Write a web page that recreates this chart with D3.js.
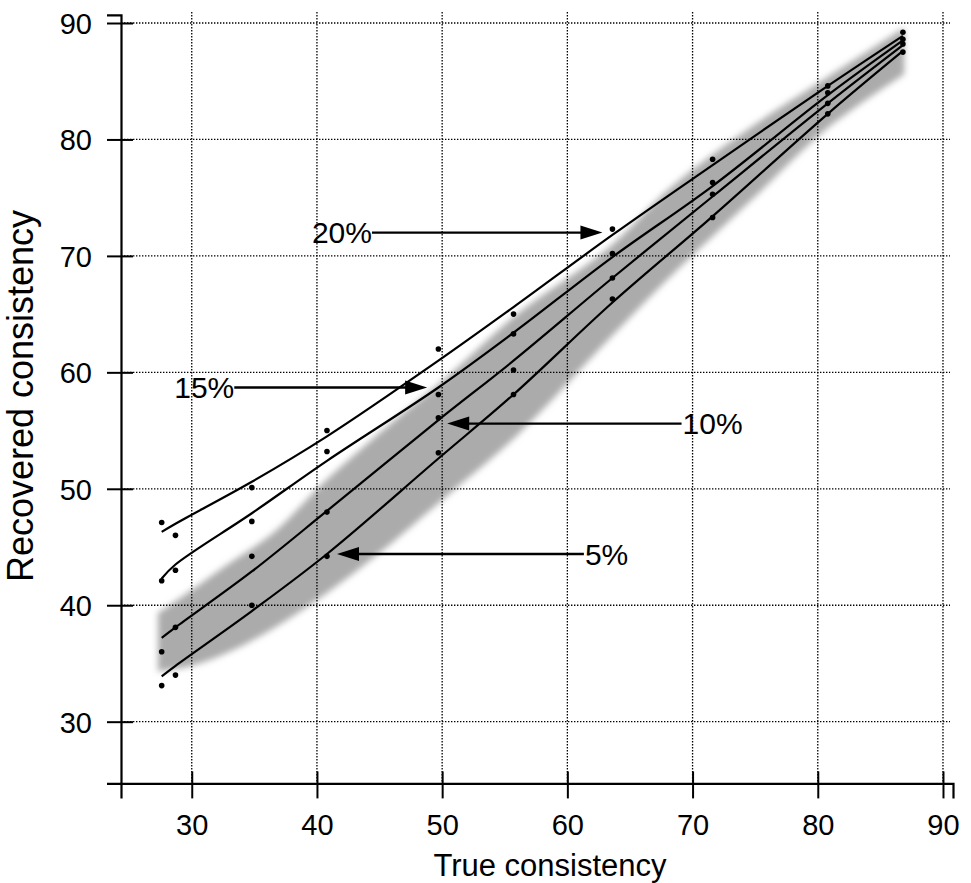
<!DOCTYPE html>
<html>
<head>
<meta charset="utf-8">
<script src="https://cdn.jsdelivr.net/npm/d3@7"></script>
<style>
  html, body { margin: 0; padding: 0; background: #fff; }
  svg { display: block; }
  text { font-family: "Liberation Sans", Arial, Helvetica, sans-serif; fill: #000; }
</style>
</head>
<body>
<svg id="chart" width="971" height="883"></svg>
<script>
// ---- data ----
const xs = [27.6, 28.7, 34.8, 40.8, 49.7, 55.7, 63.6, 71.6, 80.8, 86.8];

// observed points for each error level
const pts20 = [47.1, 46.0, 50.1, 55.0, 62.0, 65.0, 72.3, 78.3, 84.6, 89.2];
const pts15 = [42.1, 43.0, 47.2, 53.2, 58.1, 63.3, 70.2, 76.3, 84.0, 88.6];
const pts10 = [36.0, 38.1, 44.2, 48.0, 56.1, 60.2, 68.1, 75.3, 83.1, 88.2];
const pts5  = [33.1, 34.0, 40.0, 44.2, 53.1, 58.1, 66.3, 73.3, 82.2, 87.5];

// fitted curves for each error level
const line20 = [46.3, 47.0, 50.6, 54.5, 61.0, 65.6, 71.8, 77.8, 84.6, 88.9];
const line15 = [42.3, 43.5, 47.9, 52.4, 58.7, 63.4, 69.9, 76.0, 83.8, 88.5];
const line10 = [37.2, 38.1, 42.9, 48.1, 55.9, 61.0, 68.1, 75.1, 83.1, 88.1];
const line5  = [33.9, 34.8, 39.5, 44.4, 52.6, 58.1, 66.0, 73.4, 82.2, 87.6];

// shaded band
const bandX  = [27.3, 30, 33, 36.5, 40.6, 45, 50.6, 56, 63.1, 68.4, 75, 80.7, 86.9];
const bandHi = [39.3, 41.3, 43.6, 46.2, 50.6, 54.8, 59.8, 65.0, 70.5, 76.0, 81.3, 85.3, 89.6];
const bandLo = [34.3, 34.8, 36.0, 38.0, 40.9, 44.5, 49.6, 54.6, 62.6, 68.4, 75.1, 80.9, 85.6];

// annotations
const annLabels = ["20%", "15%", "10%", "5%"];
const annTextX  = [39.6, 28.6, 69.2, 61.4];
const annY      = [72.0, 58.7, 55.6, 44.4];
const annTipX   = [62.8, 48.8, 50.4, 41.6];

// ticks
const xTicks = [30, 40, 50, 60, 70, 80, 90];
const yTicks = [30, 40, 50, 60, 70, 80, 90];
const xTitle = "True consistency";
const yTitle = "Recovered consistency";

// ---- drawing ----
const svg = d3.select("#chart");
const x = d3.scaleLinear().domain([24.35, 90.8]).range([121, 953]);
const y = d3.scaleLinear().domain([24.7, 90.7]).range([783.4, 14.85]);

const defs = svg.append("defs");
defs.append("filter").attr("id", "soft")
  .attr("x", "-10%").attr("y", "-10%").attr("width", "120%").attr("height", "120%")
  .append("feGaussianBlur").attr("stdDeviation", 3);

// band
const band = bandX.map((v, i) => ({x: v, lo: bandLo[i], hi: bandHi[i]}));
svg.append("path")
  .datum(band)
  .attr("d", d3.area().x(d => x(d.x)).y0(d => y(d.lo)).y1(d => y(d.hi)).curve(d3.curveCatmullRom))
  .attr("fill", "#ababab")
  .attr("filter", "url(#soft)");

// grid
const grid = svg.append("g").attr("stroke", "#000").attr("stroke-width", 1.3).attr("stroke-dasharray", "1.4,1.6");
grid.selectAll("line.v").data(xTicks).join("line").attr("class", "v")
  .attr("x1", d => x(d)).attr("x2", d => x(d)).attr("y1", 12).attr("y2", y(24.7));
grid.selectAll("line.h").data(yTicks).join("line").attr("class", "h")
  .attr("x1", x(24.35)).attr("x2", 950).attr("y1", d => y(d)).attr("y2", d => y(d));

// axes
const xAxis = svg.append("g").attr("transform", `translate(0,${y(24.7)})`)
  .call(d3.axisBottom(x).tickValues(xTicks).tickSizeOuter(0).tickSize(15).tickFormat(d3.format("d")));
xAxis.select(".domain").attr("stroke-width", 2.2);
xAxis.selectAll(".tick line").attr("y1", -12).attr("y2", 15).attr("stroke-width", 2);
xAxis.selectAll(".tick text").attr("y", 52).attr("dy", 0).style("font-size", "29px")
  .style("font-family", '"Liberation Sans", Arial, sans-serif');

const yAxis = svg.append("g").attr("transform", `translate(${x(24.35)},0)`)
  .call(d3.axisLeft(y).tickValues(yTicks).tickSizeOuter(0).tickSize(14).tickFormat(d3.format("d")));
yAxis.select(".domain").attr("stroke-width", 2.2);
yAxis.selectAll(".tick line").attr("x1", 12).attr("x2", -14).attr("stroke-width", 2);
yAxis.selectAll(".tick text").attr("x", -29).attr("dy", "0.36em").style("font-size", "29px")
  .style("font-family", '"Liberation Sans", Arial, sans-serif');

// curves
const lineGen = d3.line().x(d => x(d[0])).y(d => y(d[1])).curve(d3.curveCatmullRom);
[line20, line15, line10, line5].forEach(arr => {
  svg.append("path")
    .datum(xs.map((v, i) => [v, arr[i]]))
    .attr("d", lineGen)
    .attr("fill", "none").attr("stroke", "#000").attr("stroke-width", 2.2);
});

// points
[pts20, pts15, pts10, pts5].forEach(arr => {
  svg.append("g").selectAll("circle")
    .data(xs.map((v, i) => [v, arr[i]]))
    .join("circle")
    .attr("cx", d => x(d[0])).attr("cy", d => y(d[1])).attr("r", 2.8).attr("fill", "#000");
});

// annotations
const ann = svg.append("g");
annLabels.forEach((lab, i) => {
  const t = ann.append("text")
    .attr("x", x(annTextX[i])).attr("y", y(annY[i])).attr("dy", "0.36em")
    .style("font-size", "30px").text(lab);
  const w = t.node().getComputedTextLength();
  const tx = x(annTextX[i]);
  const tip = x(annTipX[i]);
  const yy = y(annY[i]);
  const headL = 22, headW = 7;
  let start, dir;
  if (tip > tx) { start = tx + w; dir = 1; } else { start = tx - 1; dir = -1; }
  ann.append("line")
    .attr("x1", start).attr("x2", tip - dir * headL + dir * 2)
    .attr("y1", yy).attr("y2", yy)
    .attr("stroke", "#000").attr("stroke-width", 2.4);
  ann.append("path")
    .attr("d", `M${tip},${yy} L${tip - dir * headL},${yy - headW} L${tip - dir * headL},${yy + headW} Z`)
    .attr("fill", "#000");
});

// titles
svg.append("text").attr("x", 550).attr("y", 876).attr("text-anchor", "middle")
  .style("font-size", "31px").text(xTitle);
svg.append("text").attr("transform", "translate(33,396) rotate(-90)").attr("text-anchor", "middle")
  .style("font-size", "36px").text(yTitle);
</script>
</body>
</html>
